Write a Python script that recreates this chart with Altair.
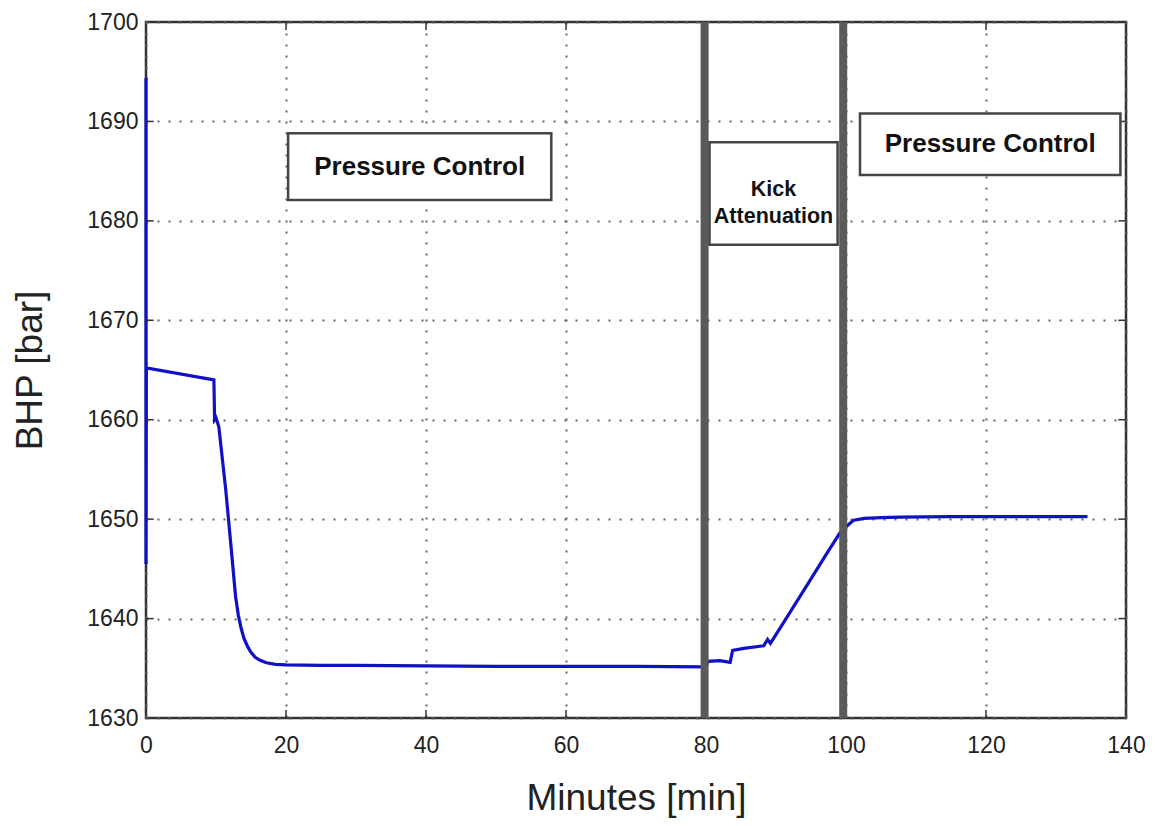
import altair as alt
import pandas as pd

# BHP series (minutes, bar)
minutes = [0, 0, 0, 0.05, 9.7, 9.8, 10.0, 10.4, 11.4, 12.1, 12.8, 13.2, 13.6, 14.0,
           14.5, 15.0, 15.6, 16.3, 17.2, 18.5, 20.0, 25, 30, 40, 50, 60, 70, 80,
           80.3, 82.0, 83.45, 83.8, 85.4, 88.25, 88.8, 89.2, 90.9, 92.6, 95.0, 97.4,
           99.3, 100.7, 101.1, 102.6, 105, 107.7, 115, 125, 134.5]
bhp = [1662, 1694.4, 1645.5, 1665.2, 1664.0, 1660.0, 1660.2, 1659.3, 1652.9, 1647.6,
       1642.2, 1640.3, 1639.0, 1638.0, 1637.2, 1636.6, 1636.1, 1635.8, 1635.55,
       1635.4, 1635.35, 1635.3, 1635.3, 1635.25, 1635.2, 1635.2, 1635.2, 1635.15,
       1635.7, 1635.76, 1635.6, 1636.8, 1637.0, 1637.27, 1637.9, 1637.5, 1639.4,
       1641.3, 1644.0, 1646.7, 1648.8, 1649.66, 1649.9, 1650.07, 1650.15, 1650.2,
       1650.25, 1650.25, 1650.25]

x_ticks = [0, 20, 40, 60, 80, 100, 120, 140]
y_ticks = [1630, 1640, 1650, 1660, 1670, 1680, 1690, 1700]

# phase boundaries (minutes)
phase_bounds = [79.8, 99.6]

# annotation boxes
box_x = [20.3, 80.5, 102.0]
box_x2 = [57.9, 98.8, 139.2]
box_y = [1688.8, 1687.9, 1690.8]
box_y2 = [1682.1, 1677.6, 1684.6]
box_labels = ["Pressure Control", "Kick Attenuation", "Pressure Control"]

FONT = "Liberation Sans"

df = pd.DataFrame({"t": minutes, "p": bhp, "i": list(range(len(minutes)))})
xs = alt.Scale(domain=[0, 140], nice=False, zero=False)
ys = alt.Scale(domain=[1630, 1700], nice=False, zero=False)

base_x = alt.X("t:Q", scale=xs,
               axis=alt.Axis(values=x_ticks, format="d", title="Minutes [min]", grid=True,
                             ticks=False, domain=False, labelPadding=16,
                             labelFlush=False, labelOverlap=False,
                             titleY=80, titleBaseline="middle"))
base_y = alt.Y("p:Q", scale=ys,
               axis=alt.Axis(values=y_ticks, format="d", title="BHP [bar]", grid=True,
                             ticks=False, domain=False, labelPadding=8,
                             labelFlush=False, labelOverlap=False,
                             titleX=-116, titleY=348, titleBaseline="middle"))

line = alt.Chart(df).mark_line(color="#1010c4", strokeWidth=3.2, interpolate="linear").encode(
    x=base_x, y=base_y, order=alt.Order("i:Q"))

# inward ticks (MATLAB style)
xt = pd.DataFrame({"t": [20, 40, 60, 120]})
yt = pd.DataFrame({"p": [1640, 1650, 1660, 1670, 1680, 1690]})
tick_style = dict(color="#333", strokeWidth=1.5)
xb = alt.Chart(xt).mark_rule(**tick_style).encode(
    x=alt.X("t:Q", scale=xs), y=alt.datum(1630), y2=alt.datum(1630.8))
xtop = alt.Chart(xt).mark_rule(**tick_style).encode(
    x=alt.X("t:Q", scale=xs), y=alt.datum(1699.2), y2=alt.datum(1700))
yl = alt.Chart(yt).mark_rule(**tick_style).encode(
    y=alt.Y("p:Q", scale=ys), x=alt.datum(0), x2=alt.datum(1.1))
yr = alt.Chart(yt).mark_rule(**tick_style).encode(
    y=alt.Y("p:Q", scale=ys), x=alt.datum(138.9), x2=alt.datum(140))

bars = alt.Chart(pd.DataFrame({"t": phase_bounds})).mark_rule(
    color="#5a5a5a", strokeWidth=8).encode(
    x=alt.X("t:Q", scale=xs), y=alt.datum(1630), y2=alt.datum(1700))

bdf = pd.DataFrame({"x": box_x, "x2": box_x2, "y": box_y, "y2": box_y2,
                    "label": box_labels,
                    "tx": [(a + b) / 2 for a, b in zip(box_x, box_x2)],
                    "ty": [(a + b) / 2 for a, b in zip(box_y, box_y2)]})
boxes = alt.Chart(bdf).mark_rect(fill="white", stroke="#444", strokeWidth=2.5).encode(
    x=alt.X("x:Q", scale=xs), x2="x2", y=alt.Y("y:Q", scale=ys), y2="y2")

big = bdf[bdf.label == "Pressure Control"]
texts = alt.Chart(big).mark_text(font=FONT, fontWeight="bold", fontSize=26,
                                 color="#111", baseline="middle").encode(
    x=alt.X("tx:Q", scale=xs), y=alt.Y("ty:Q", scale=ys), text="label:N")
kick = pd.DataFrame({"tx": [(box_x[1] + box_x2[1]) / 2],
                     "ty": [(box_y[1] + box_y2[1]) / 2],
                     "lines": [["Kick", "Attenuation"]]})
ktext = alt.Chart(kick).mark_text(font=FONT, fontWeight="bold", fontSize=21.5,
                                  color="#111", baseline="middle", lineHeight=27,
                                  dy=-4).encode(
    x=alt.X("tx:Q", scale=xs), y=alt.Y("ty:Q", scale=ys), text="lines")

chart = alt.layer(line, xb, xtop, yl, yr, bars, boxes, texts, ktext).properties(
    width=980, height=696,
    padding={"left": 138, "top": 14, "right": 20, "bottom": 104},
    autosize=alt.AutoSizeParams(type="none"),
    background="white",
).configure_view(stroke="#333", strokeWidth=2.5).configure_axis(
    gridColor="#666", gridDash=[2, 9], gridWidth=2, gridOpacity=1,
    labelFont=FONT, labelFontSize=23, labelColor="#222",
    titleFont=FONT, titleFontSize=37, titleFontWeight="normal", titleColor="#222",
)

chart.save("out.html", embed_options={"renderer": "svg", "actions": False})
